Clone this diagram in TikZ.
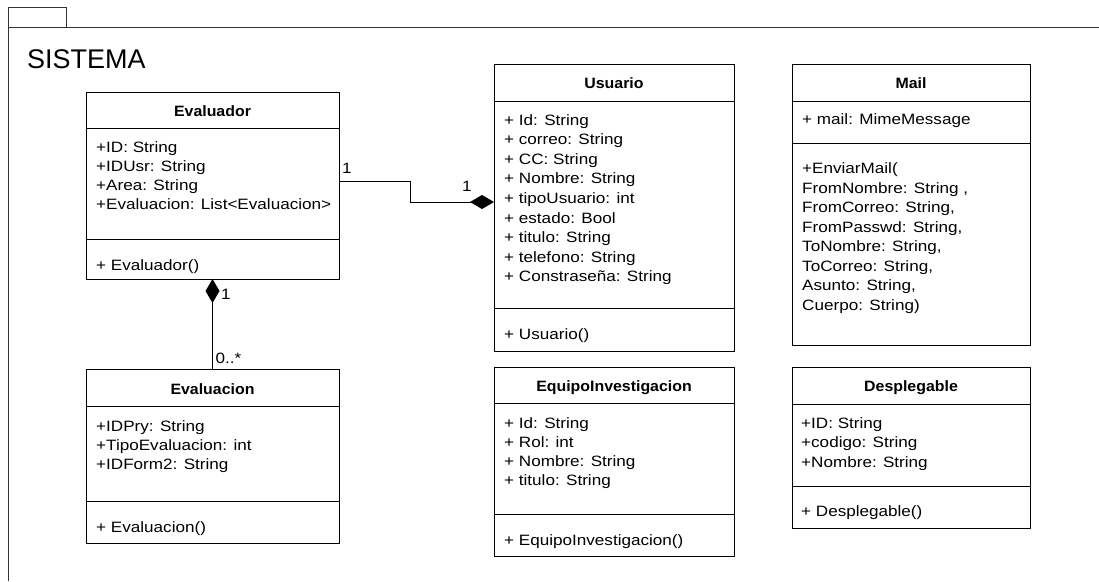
\documentclass[tikz,border=0pt]{standalone}
\usepackage{fontspec}
\usetikzlibrary{arrows.meta}
\newfontfamily\umlfamily[FakeStretch=1.14]{Liberation Sans}
\newfontfamily\umlbfamily[FakeStretch=1.06]{Liberation Sans}
\newfontfamily\pkgfamily{Liberation Sans}
\newcommand\attrfont{\umlfamily\fontsize{15}{17}\selectfont}
\newcommand\titlefont{\umlbfamily\bfseries\fontsize{15}{17}\selectfont}
\newcommand\pkgfont{\pkgfamily\fontsize{27}{30}\selectfont}

\tikzset{
  classbox/.style={draw=black, line width=1pt, anchor=north west,
                   inner sep=0pt, outer sep=0pt, fill=white},
  sepline/.style={draw=black, line width=1pt},
  attr/.style={anchor=base west, inner sep=0pt, font=\attrfont},
  title/.style={anchor=base, inner sep=0pt, font=\titlefont},
  mult/.style={anchor=base west, inner sep=0pt, font=\attrfont},
  link/.style={draw=black, line width=1pt},
  composed/.style={-{Diamond[length=24pt,width=14pt]}},
  frame/.style={draw=black!80, line width=1pt},
}

\begin{document}
\begin{tikzpicture}[x=1pt,y=-1pt]
\useasboundingbox[fill=white] (0,0) rectangle (1099,581);

% package frame
\draw[frame] (8,27) rectangle (66,7);
\draw[frame] (1099,27) -- (8,27) -- (8,581);
\node[anchor=base west, inner sep=0pt, font=\pkgfont] (pkg) at (27,68) {SISTEMA};

% Evaluador
\node[classbox, minimum width=253pt, minimum height=187pt] (evaluador) at (86,92) {};
\draw[sepline] (86,128) -- (339,128);
\draw[sepline] (86,239) -- (339,239);
\node[title] (evaluador-t) at (212.5,116.5) {Evaluador};
\foreach \t [count=\i from 0] in {{+ID: String},{+IDUsr: String},{+Area: String},{+Evaluacion: List<Evaluacion>}}
  \node[attr] (evaluador-a\i) at (96,152.7+18.8*\i) {\t};
\node[attr] (evaluador-m0) at (96,270) {+ Evaluador()};

% Usuario
\node[classbox, minimum width=240pt, minimum height=287pt] (usuario) at (494,64) {};
\draw[sepline] (494,101) -- (734,101);
\draw[sepline] (494,308) -- (734,308);
\node[title] (usuario-t) at (614,88) {Usuario};
\foreach \t [count=\i from 0] in {{+ Id: String},{+ correo: String},{+ CC: String},{+ Nombre: String},{+ tipoUsuario: int},{+ estado: Bool},{+ titulo: String},{+ telefono: String},{+ Constraseña: String}}
  \node[attr] (usuario-a\i) at (504,125+19.6*\i) {\t};
\node[attr] (usuario-m0) at (504,339) {+ Usuario()};

% Mail
\node[classbox, minimum width=238pt, minimum height=281pt] (mail) at (792,64) {};
\draw[sepline] (792,101) -- (1030,101);
\draw[sepline] (792,143) -- (1030,143);
\node[title] (mail-t) at (911,88) {Mail};
\node[attr] (mail-a0) at (802,124.5) {+ mail: MimeMessage};
\foreach \t [count=\i from 0] in {{+EnviarMail(},{FromNombre: String ,},{FromCorreo: String,},{FromPasswd: String,},{ToNombre: String,},{ToCorreo: String,},{Asunto: String,},{Cuerpo: String)}}
  \node[attr] (mail-m\i) at (802,173.5+19.5*\i) {\t};

% Evaluacion
\node[classbox, minimum width=253pt, minimum height=174pt] (evaluacion) at (86,369) {};
\draw[sepline] (86,406) -- (339,406);
\draw[sepline] (86,501) -- (339,501);
\node[title] (evaluacion-t) at (212.5,394.5) {Evaluacion};
\foreach \t [count=\i from 0] in {{+IDPry: String},{+TipoEvaluacion: int},{+IDForm2: String}}
  \node[attr] (evaluacion-a\i) at (96,431+19.2*\i) {\t};
\node[attr] (evaluacion-m0) at (96,532) {+ Evaluacion()};

% EquipoInvestigacion
\node[classbox, minimum width=240pt, minimum height=189pt] (equipo) at (494,367) {};
\draw[sepline] (494,403) -- (734,403);
\draw[sepline] (494,514) -- (734,514);
\node[title] (equipo-t) at (614,391.7) {EquipoInvestigacion};
\foreach \t [count=\i from 0] in {{+ Id: String},{+ Rol: int},{+ Nombre: String},{+ titulo: String}}
  \node[attr] (equipo-a\i) at (504,428+19.3*\i) {\t};
\node[attr] (equipo-m0) at (504,545) {+ EquipoInvestigacion()};

% Desplegable
\node[classbox, minimum width=238pt, minimum height=161pt] (desplegable) at (792,367) {};
\draw[sepline] (792,404) -- (1030,404);
\draw[sepline] (792,486) -- (1030,486);
\node[title] (desplegable-t) at (911,391.7) {Desplegable};
\foreach \t [count=\i from 0] in {{+ID: String},{+codigo: String},{+Nombre: String}}
  \node[attr] (desplegable-a\i) at (801,428+19.5*\i) {\t};
\node[attr] (desplegable-m0) at (801,516) {+ Desplegable()};

% associations
\draw[link, composed] (evaluador.east |- 0,181) -- (410,181) -- (410,202) -- (usuario.west |- 0,202);
\node[mult] (m-ev-us) at (342,173.3) {1};
\node[mult] (m-us-ev) at (462,191) {1};

\draw[link, composed] (evaluacion.north) -- (evaluador.south);
\node[mult] (m-ev-whole) at (221,299) {1};
\node[mult] (m-ev-part) at (215.5,363.3) {0..*};
\end{tikzpicture}
\end{document}
